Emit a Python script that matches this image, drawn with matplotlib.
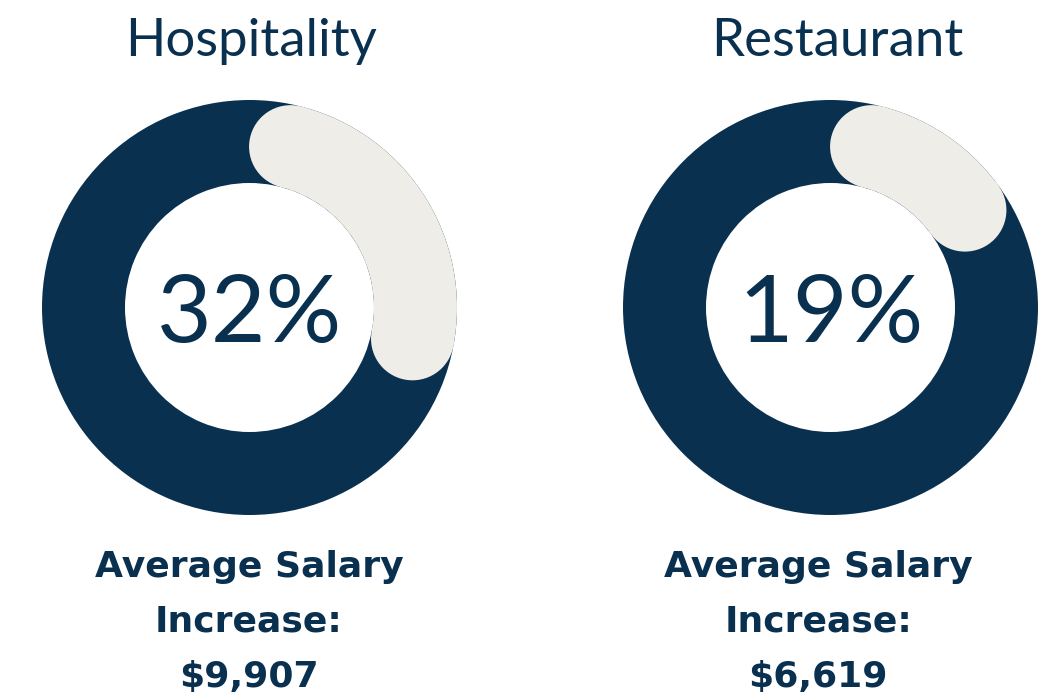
import matplotlib
matplotlib.use("Agg")
import matplotlib.pyplot as plt
from matplotlib.patches import Wedge, Circle
import numpy as np

categories = ["Hospitality", "Restaurant"]
percents = [32, 19]
salaries = ["$9,907", "$6,619"]
caption_lines = ["Average Salary", "Increase:"]

NAVY = "#0a3050"
BEIGE = "#efede7"

W, H = 1058, 694
fig = plt.figure(figsize=(W / 100, H / 100), dpi=100)
ax = fig.add_axes([0, 0, 1, 1])
ax.set_xlim(0, W)
ax.set_ylim(0, H)
ax.set_aspect("equal")
ax.axis("off")

centers_x = [249.5, 830.5]
cy = H - 307.5
r_out = 207.5
width = 83
r_mid = r_out - width / 2
cap = width / 2
cap_deg = np.degrees(cap / r_mid)
title_x = [251, 837]
text_x = [249, 818]

for i, (cat, pct, sal) in enumerate(zip(categories, percents, salaries)):
    cx = centers_x[i]
    ax.add_patch(Wedge((cx, cy), r_out, 0, 360, width=width, color=NAVY, lw=0))
    span = pct / 100 * 360
    a1 = cap_deg
    a2 = span - cap_deg
    ax.add_patch(Wedge((cx, cy), r_out, 90 - a2, 90 - a1, width=width,
                       color=BEIGE, lw=0))
    for a in (a1, a2):
        t = np.radians(90 - a)
        ax.add_patch(Circle((cx + r_mid * np.cos(t), cy + r_mid * np.sin(t)),
                            cap, color=BEIGE, lw=0))
    ax.text(cx, cy - 34, f"{pct}%", ha="center", va="baseline",
            fontsize=68, color=NAVY, family="Lato", fontweight="normal")
    ax.text(title_x[i], H - 56, cat, ha="center", va="baseline",
            fontsize=38, color=NAVY, family="Lato", fontweight="normal")
    lines = caption_lines + [sal]
    for j, (line, yb) in enumerate(zip(lines, [577, 632, 687])):
        ax.text(text_x[i], H - yb, line, ha="center", va="baseline",
                fontsize=26, color=NAVY, family="DejaVu Sans",
                fontweight="bold")

fig.savefig("out.png", dpi=100, facecolor="white")
